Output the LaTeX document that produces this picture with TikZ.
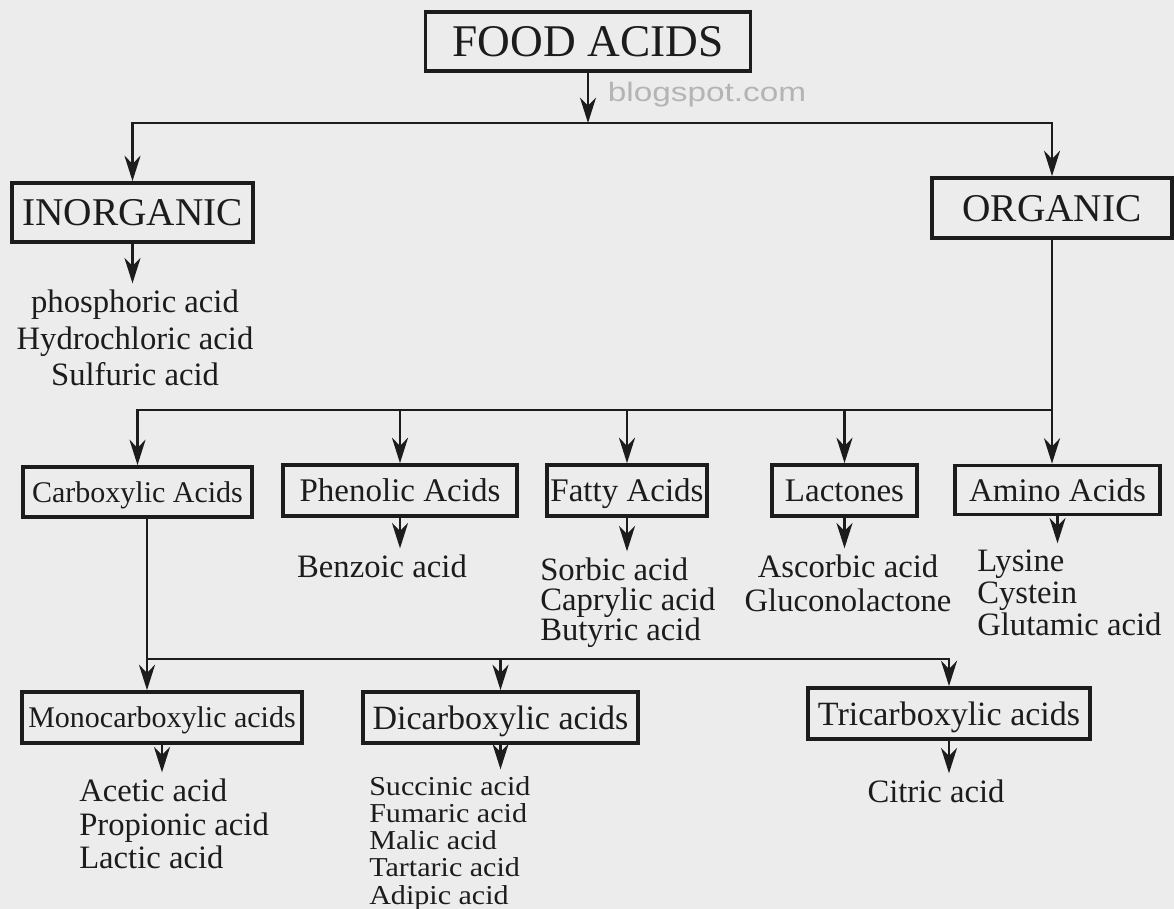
\documentclass[tikz,border=0pt]{standalone}
\usepackage{fontspec}
\setmainfont{Liberation Serif}
\newfontfamily\wideserif{Liberation Serif}[FakeStretch=1.1]
\newfontfamily\wmfont{Liberation Sans}
\usetikzlibrary{arrows.meta}
\definecolor{paper}{HTML}{ECECEC}
\definecolor{ink}{HTML}{1C1C1C}
\definecolor{wm}{HTML}{B4B4B4}
\newcommand{\fs}[2]{\fontsize{#1}{#2}\selectfont}
\begin{document}
\begin{tikzpicture}[x=0.75pt,y=-0.75pt,
  box/.style={draw=ink,line width=2.8pt,text=ink,inner sep=0pt,anchor=center,text depth=0pt},
  sz/.style 2 args={minimum width=#1*0.75pt,minimum height=#2*0.75pt},
  lst/.style={text=ink,inner sep=0pt},
  conn/.style={draw=ink,line width=1.9pt},
  arr/.style={conn,-{Stealth[length=19pt,width=12pt,inset=6pt]}},
  sub/.style={arr,shorten >=5pt},
]
\fill[paper] (0,0) rectangle (1174,909);
\useasboundingbox (0,0) rectangle (1174,909);

\node[text=wm,font=\wmfont\fs{20}{24}] (wmk) at (707,95) {\scalebox{1.25}[1]{blogspot.com}};

% top
\node[box,sz={325}{59},font=\fs{34}{40}] (food) at (588,41.5) {FOOD ACIDS};
\coordinate (b1) at (588,123);
\node[box,sz={241}{59},font=\fs{29.5}{34}] (inorg) at (132.5,212.5) {INORGANIC};
\node[box,sz={240}{60},font=\fs{29.5}{34}] (org) at (1052,208) {ORGANIC};
\node[lst,anchor=north,align=center,font=\fs{24.5}{27.4}] (inorgL) at (135,290) {phosphoric acid\\Hydrochloric acid\\Sulfuric acid};

\draw[arr] (food.south) -- (b1);
\draw[arr] (b1) -| (inorg.north);
\draw[arr] (b1) -| (org.north);
\draw[sub] (inorg.south) -- (inorg.south |- inorgL.north);

% row 2
\coordinate (b2) at (1052,410);
\node[box,sz={229}{50},font=\fs{22.5}{26}] (carb) at (137.5,492) {Carboxylic Acids};
\node[box,sz={234}{51},font=\fs{24.75}{28}] (phen) at (400,490.5) {Phenolic Acids};
\node[box,sz={160}{51},font=\fs{24.75}{28}] (fatty) at (627,490.5) {Fatty Acids};
\node[box,sz={145}{51},font=\fs{24.75}{28}] (lact) at (844.5,490.5) {Lactones};
\node[box,sz={205}{49},font=\fs{24.75}{28}] (amino) at (1057.5,490) {Amino Acids};

\draw[conn] (org.south) -- (b2);
\draw[arr] (b2) -| (carb.north);
\draw[arr] (phen.north |- b2) -- (phen.north);
\draw[arr] (fatty.north |- b2) -- (fatty.north);
\draw[arr] (lact.north |- b2) -- (lact.north);
\draw[arr] (b2) -- (b2 |- amino.north);

\node[lst,anchor=north,font=\fs{24.5}{27}] (phenL) at (382,555) {Benzoic acid};
\node[lst,anchor=north west,align=left,font=\fs{24.5}{22.5}] (fattyL) at (540,558) {Sorbic acid\\Caprylic acid\\Butyric acid};
\node[lst,anchor=north,align=center,font=\fs{24.5}{25.5}] (lactL) at (848,555) {Ascorbic acid\\Gluconolactone};
\node[lst,anchor=north west,align=left,font=\fs{24.5}{24}] (aminoL) at (977,550) {Lysine\\Cystein\\Glutamic acid};

\draw[sub] (phen.south) -- (phen.south |- phenL.north);
\draw[sub] (fatty.south) -- (fatty.south |- fattyL.north);
\draw[sub] (lact.south) -- (lact.south |- lactL.north);
\draw[sub] (amino.south) -- (amino.south |- aminoL.north);

% row 3
\coordinate (b3) at (147,659);
\node[box,sz={280}{51},font=\fs{22.5}{26}] (mono) at (162,717.5) {Monocarboxylic acids};
\node[box,sz={275}{51},font=\fs{25.5}{29}] (di) at (500.5,717.5) {Dicarboxylic acids};
\node[box,sz={282}{51},font=\fs{25.5}{29}] (tri) at (949,713.5) {Tricarboxylic acids};

\draw[arr] (carb.south -| b3) -- (b3) -- (b3 |- mono.north);
\draw[arr] (b3) -| (tri.north);
\draw[arr] (di.north |- b3) -- (di.north);

\node[lst,anchor=north west,align=left,font=\fs{24.5}{25.1}] (monoL) at (79,779) {Acetic acid\\Propionic acid\\Lactic acid};
\node[lst,anchor=north west,align=left,font=\wideserif\fs{20.5}{20.4}] (diL) at (369,776) {Succinic acid\\Fumaric acid\\Malic acid\\Tartaric acid\\Adipic acid};
\node[lst,anchor=north,font=\fs{24.5}{27}] (triL) at (936,780) {Citric acid};

\draw[sub] (mono.south) -- (mono.south |- monoL.north);
\draw[sub] (di.south) -- (di.south |- diL.north);
\draw[sub] (tri.south) -- (tri.south |- triL.north);
\end{tikzpicture}
\end{document}
